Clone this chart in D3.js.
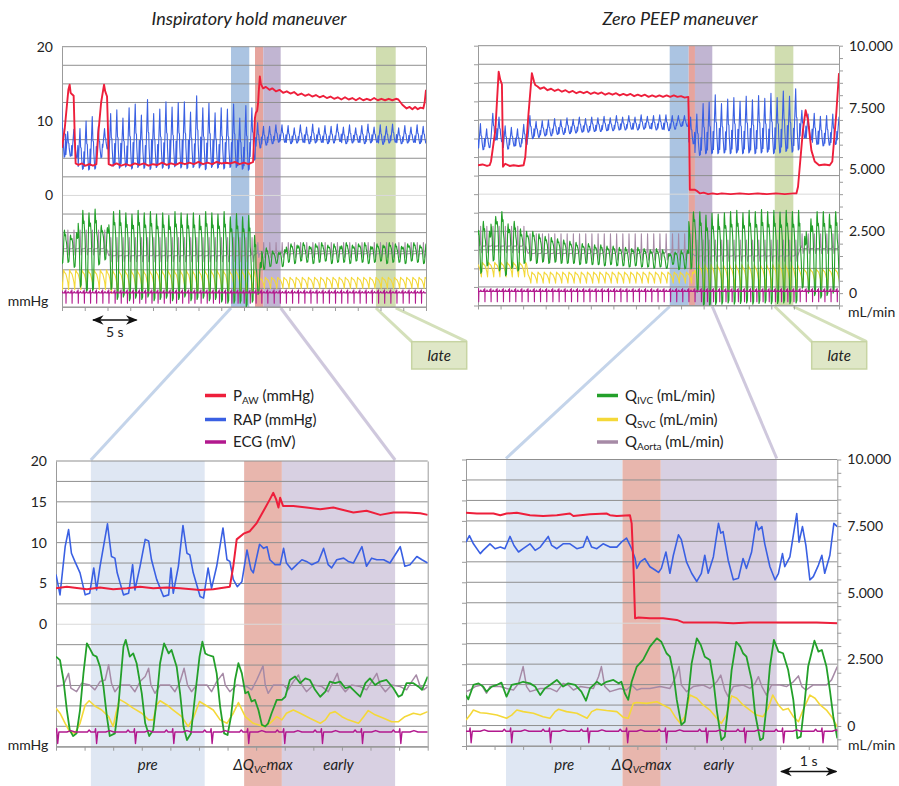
<!DOCTYPE html>
<html>
<head>
<meta charset="utf-8">
<script src="https://cdn.jsdelivr.net/npm/d3@7"></script>
<style>
  body { margin: 0; background: #ffffff; }
  svg { display: block; font-family: Lato, "Open Sans", "Liberation Sans", sans-serif; }
</style>
</head>
<body>
<svg id="chart" width="899" height="786"></svg>
<script>
// ---------------------------------------------------------------------------
// Tick labels and axis values
// ---------------------------------------------------------------------------
const pressureDomain = [-15, 20];                 // mmHg, left axis
const leftLabelsTop = [0, 10, 20];
const leftLabelsBottom = [0, 5, 10, 15, 20];
const flowLabels = [0, 2500, 5000, 7500, 10000];  // mL/min, right axis
const panelTitles = ["Inspiratory hold maneuver", "Zero PEEP maneuver"];

// ---------------------------------------------------------------------------
// Overview recordings (40 s). Heart beats (ECG R waves, s) and per-beat levels
// ---------------------------------------------------------------------------
const tlBeats = [-0.24, 0.43, 1.10, 1.78, 2.45, 3.13, 3.80, 4.48, 5.15, 5.83, 6.50, 7.18, 7.85, 8.53, 9.20,
  9.88, 10.55, 11.23, 11.90, 12.58, 13.25, 13.93, 14.60, 15.28, 15.95, 16.63, 17.30, 17.98, 18.66, 19.34,
  20.01, 20.68, 21.32, 21.95, 22.61, 23.31, 23.98, 24.65, 25.33, 26.00, 26.68, 27.35, 28.03, 28.70, 29.38,
  30.05, 30.73, 31.40, 32.08, 32.75, 33.43, 34.10, 34.78, 35.45, 36.13, 36.80, 37.48, 38.15, 38.83, 39.50];
const tlRapPeak = [12.4, 8.6, 8.9, 9.0, 10.0, 10.6, 9.3, 9.0, 11.0, 11.5, 10.4, 11.8, 12.3, 10.8, 12.9,
  11.0, 11.6, 12.6, 11.9, 12.5, 12.6, 11.2, 13.4, 11.8, 12.4, 11.1, 11.8, 11.6, 12.3, 10.4,
  12.1, 11.8, 9.8, 9.3, 9.3, 9.5, 9.5, 9.4, 9.1, 9.5, 9.2, 9.6, 9.1, 9.4, 9.3,
  9.6, 9.2, 9.5, 9.1, 9.4, 9.6, 9.2, 9.5, 9.3, 9.6, 9.1, 9.4, 9.2, 9.5, 9.3];
const tlRapTrough = [5.0, 5.2, 5.0, 3.4, 3.3, 3.4, 5.0, 6.2, 3.8, 3.5, 3.7, 3.4, 3.6, 3.5, 3.3,
  3.6, 3.5, 3.4, 3.7, 3.5, 3.4, 3.6, 3.5, 3.3, 3.6, 3.5, 3.4, 3.6, 3.6, 3.4,
  3.2, 4.6, 6.3, 6.7, 6.9, 7.1, 7.1, 6.9, 7.0, 7.1, 6.9, 7.0, 7.1, 6.9, 7.0,
  7.2, 6.9, 7.0, 7.1, 6.9, 7.0, 7.1, 6.8, 7.0, 7.1, 6.9, 7.0, 7.1, 6.9, 7.0];
const tlIvcPeak = [2600, 2400, 2500, 3400, 3300, 3450, 2800, 2700, 3350, 3400, 3300, 3250, 3400, 3300, 3350,
  3250, 3300, 3200, 3350, 3300, 3250, 3300, 3200, 3350, 3300, 3250, 3350, 3140, 3270, 3140,
  3200, 2390, 1300, 1890, 1760, 1700, 1820, 2050, 2000, 2100, 1950, 2050, 2100, 2000, 2050,
  1950, 2100, 2000, 2050, 2100, 1950, 2050, 2000, 2100, 2050, 1950, 2050, 2100, 2000, 2050];
const tlIvcTrough = [1250, 1300, 1100, 300, 100, 150, 1200, 1400, 200, -200, -100, -250, -150, -200, -100,
  -250, -200, -150, -250, -200, -100, -250, -200, -150, -250, -200, -300, -350, -350, -350,
  -500, -310, 10, 1010, 1130, 1260, 1130, 1300, 1250, 1350, 1300, 1250, 1300, 1350, 1250,
  1300, 1300, 1250, 1350, 1300, 1250, 1300, 1350, 1250, 1300, 1300, 1250, 1350, 1300, 1250];
// [from s, to s, low, high] in mL/min
const tlSvcSegments = [[-1, 5.15, 200, 1000], [5.15, 21.0, 50, 1000], [21.0, 41, 250, 700]];
const tlAortaSegments = [[-1, 5.15, 1850, 2600], [5.15, 21.0, 1570, 2300], [21.0, 41, 1650, 2100]];
const tlPaw = [[0, 6.4], [0.3, 9.0], [0.7, 14.2], [0.84, 14.9], [0.95, 13.8], [1.1, 13.6], [1.28, 13.4], [1.4, 8.0],
  [1.5, 4.3], [1.8, 4.1], [2.2, 4.3], [2.6, 4.0], [3.0, 4.2], [3.4, 4.0], [3.78, 4.2], [4.0, 8.5], [4.3, 12.5],
  [4.62, 14.9], [4.75, 14.0], [4.95, 13.3], [5.05, 9.0], [5.13, 4.2], [5.5, 4.0], [6.0, 4.3], [6.5, 4.0],
  [7.0, 4.2], [7.5, 4.0], [8.0, 4.3], [8.5, 4.1], [9.0, 4.3], [9.5, 4.0], [10.0, 4.2], [10.5, 4.1], [11.0, 4.4],
  [11.5, 4.1], [12.0, 4.3], [12.5, 4.1], [13.0, 4.4], [13.5, 4.2], [14.0, 4.4], [14.5, 4.2], [15.0, 4.5],
  [15.5, 4.2], [16.0, 4.4], [16.5, 4.2], [17.0, 4.5], [17.5, 4.3], [18.0, 4.4], [18.5, 4.3], [19.0, 4.5],
  [19.5, 4.2], [20.0, 4.4], [20.5, 4.2], [21.0, 4.5], [21.08, 7.0], [21.2, 10.4], [21.3, 11.1], [21.45, 11.4],
  [21.55, 12.4], [21.62, 13.9], [21.74, 16.0], [21.85, 15.0], [22.1, 14.4], [22.4, 14.6], [22.8, 14.2],
  [23.1, 14.4], [23.5, 14.0], [23.9, 14.2], [24.3, 13.8], [24.7, 14.0], [25.1, 13.7], [25.5, 13.9], [25.9, 13.5],
  [26.3, 13.7], [26.7, 13.4], [27.1, 13.6], [27.5, 13.3], [27.9, 13.5], [28.3, 13.2], [28.7, 13.4], [29.1, 13.1],
  [29.5, 13.3], [29.9, 13.0], [30.3, 13.2], [30.7, 12.9], [31.1, 13.2], [31.5, 12.9], [31.9, 13.1], [32.3, 12.8],
  [32.7, 13.1], [33.1, 12.8], [33.5, 13.0], [33.9, 12.8], [34.3, 13.1], [34.7, 12.8], [35.1, 13.0], [35.5, 12.8],
  [35.9, 13.0], [36.3, 12.8], [36.7, 13.0], [36.96, 12.9], [37.4, 12.2], [37.87, 11.7], [38.2, 11.9],
  [38.5, 11.6], [38.8, 11.9], [39.1, 11.6], [39.4, 11.8], [39.7, 11.7], [39.85, 12.5], [40, 14.2]];

const trBeats = [-0.62, 0.07, 0.76, 1.44, 2.13, 2.81, 3.50, 4.18, 4.87, 5.55, 6.24, 6.92, 7.61, 8.29, 8.98,
  9.66, 10.35, 11.03, 11.72, 12.40, 13.09, 13.77, 14.46, 15.14, 15.83, 16.51, 17.20, 17.88, 18.57, 19.25,
  19.94, 20.62, 21.33, 22.01, 22.68, 23.36, 24.04, 24.75, 25.42, 26.09, 26.78, 27.47, 28.15, 28.84, 29.52,
  30.21, 30.89, 31.58, 32.26, 32.95, 33.63, 34.32, 35.00, 35.69, 36.37, 37.06, 37.74, 38.43, 39.11, 39.80];
const trRapPeak = [9.0, 9.5, 8.8, 10.9, 10.4, 9.2, 9.0, 8.8, 9.4, 10.6, 9.8, 9.9, 10.0, 10.2, 10.0,
  10.3, 10.1, 10.4, 10.2, 10.4, 10.3, 10.5, 10.3, 10.6, 10.4, 10.6, 10.4, 10.7, 10.5, 10.6,
  10.7, 10.7, 10.6, 10.6, 10.6, 10.4, 10.8, 12.2, 12.4, 13.4, 12.2, 12.8, 13.0, 12.5, 13.2,
  12.7, 13.3, 12.9, 13.6, 13.0, 13.9, 13.2, 14.2, 11.3, 10.8, 10.9, 10.5, 10.6, 10.8, 10.4];
const trRapTrough = [6.0, 5.9, 6.2, 7.2, 7.0, 6.0, 6.4, 6.3, 6.6, 7.4, 7.6, 7.8, 7.8, 8.0, 8.0,
  8.1, 8.2, 8.3, 8.3, 8.4, 8.4, 8.5, 8.5, 8.6, 8.6, 8.7, 8.6, 8.7, 8.8, 8.6,
  8.7, 8.5, 8.7, 9.1, 9.1, 6.7, 5.1, 5.3, 5.3, 5.3, 5.4, 5.3, 5.4, 5.3, 5.4,
  5.3, 5.4, 5.5, 5.3, 5.4, 5.6, 5.5, 5.8, 7.5, 7.2, 6.6, 6.4, 6.5, 6.6, 7.0];
const trIvcPeak = [2600, 2900, 2500, 3100, 3300, 2800, 2900, 2600, 2500, 2500, 2400, 2300, 2250, 2200, 2150,
  2100, 2050, 2000, 2000, 1950, 1950, 1900, 1900, 1850, 1850, 1800, 1850, 1800, 1750, 1800,
  1750, 1600, 1660, 1730, 1730, 3290, 3290, 3160, 3230, 3200, 3250, 3300, 3350, 3250, 3350,
  3300, 3380, 3300, 3350, 3280, 3350, 3300, 3350, 2300, 3000, 3300, 3300, 3200, 3300, 2600];
const trIvcTrough = [1200, 800, 1100, 1300, 900, 700, 1000, 900, 1200, 1300, 1200, 1250, 1200, 1250, 1200,
  1200, 1200, 1150, 1200, 1150, 1150, 1100, 1150, 1100, 1100, 1050, 1100, 1050, 1050, 1000,
  1050, 1000, 1160, 950, 980, 980, 40, -530, -530, -460, -450, -400, -450, -420, -400,
  -450, -420, -400, -440, -420, -400, -430, -400, 200, 0, -100, -200, -100, 0, 300];
const trSvcSegments = [[-1, 5.24, 650, 1250], [5.24, 23.4, 400, 850], [23.4, 35.3, 150, 1150], [35.3, 41, 300, 1000]];
const trAortaSegments = [[-1, 5.24, 1900, 2700], [5.24, 23.4, 1600, 2400], [23.4, 35.3, 1500, 2150], [35.3, 41, 1800, 2400]];
const trPaw = [[0, 3.9], [0.5, 4.0], [1.0, 3.8], [1.29, 3.9], [1.44, 4.4], [1.92, 8.6], [2.29, 16.5], [2.47, 15.4],
  [2.65, 14.8], [2.72, 9.0], [2.77, 3.7], [3.02, 4.1], [3.5, 3.8], [3.94, 3.9], [4.5, 3.8], [5.05, 3.9], [5.24, 5.0],
  [5.6, 10.9], [5.97, 16.3], [6.2, 15.2], [6.34, 14.7], [6.6, 14.5], [6.89, 14.2], [7.3, 14.4], [7.7, 14.0],
  [8.1, 14.2], [8.5, 13.9], [8.9, 14.1], [9.3, 13.8], [9.7, 14.0], [10.1, 13.7], [10.5, 13.9], [10.9, 13.6],
  [11.3, 13.8], [11.7, 13.6], [12.1, 13.8], [12.5, 13.5], [12.9, 13.7], [13.3, 13.5], [13.7, 13.7], [14.1, 13.4],
  [14.5, 13.6], [14.9, 13.4], [15.3, 13.6], [15.7, 13.3], [16.1, 13.5], [16.5, 13.3], [16.9, 13.5], [17.3, 13.2],
  [17.7, 13.4], [18.1, 13.2], [18.5, 13.4], [18.9, 13.1], [19.3, 13.3], [19.7, 13.1], [20.1, 13.3], [20.5, 13.1],
  [20.9, 13.3], [21.3, 13.1], [21.7, 13.3], [22.1, 13.1], [22.5, 13.2], [22.9, 13.0], [23.3, 13.1], [23.41, 7.3],
  [23.47, 0.6], [23.7, 0.6], [24.0, 0.6], [24.3, 0.4], [24.6, 0.1], [25.0, 0.2], [25.5, 0.0], [26.0, 0.1],
  [26.5, 0.0], [27.0, 0.1], [28.0, 0.0], [29.0, 0.1], [30.0, 0.0], [31.0, 0.1], [32.0, 0.0], [33.0, 0.1],
  [34.0, 0.0], [35.0, 0.1], [35.28, 0.1], [35.46, 1.0], [36.0, 8.6], [36.3, 11.3], [36.57, 10.0], [36.94, 5.9],
  [37.31, 4.4], [37.8, 3.9], [38.4, 4.0], [38.97, 3.9], [39.26, 4.4], [39.7, 10.9], [40, 16.3]];

// ---------------------------------------------------------------------------
// Detail recordings (6.5 s): [time s, value]
// ---------------------------------------------------------------------------
const blBeats = [0.02, 0.70, 1.38, 2.05, 2.72, 3.36, 3.99, 4.65, 5.35, 6.02];
const blPaw = [[0, 4.4], [0.19, 4.6], [0.54, 4.3], [0.77, 4.5], [1.00, 4.3], [1.24, 4.4], [1.47, 4.6], [1.70, 4.4],
  [1.94, 4.5], [2.17, 4.4], [2.52, 4.2], [2.75, 4.3], [3.04, 4.6], [3.10, 7.1], [3.16, 10.4], [3.28, 11.1],
  [3.39, 11.4], [3.51, 12.4], [3.63, 13.9], [3.74, 15.3], [3.80, 16.1], [3.85, 15.3], [3.89, 14.3], [3.92, 15.5],
  [3.97, 14.5], [4.15, 14.5], [4.38, 14.3], [4.62, 14.1], [4.85, 14.3], [4.97, 14.1], [5.20, 13.7], [5.43, 13.9],
  [5.67, 13.4], [5.90, 13.7], [6.13, 13.7], [6.37, 13.6], [6.50, 13.4]];
const blRap = [[0, 6.1], [0.07, 3.6], [0.16, 9.5], [0.22, 11.6], [0.27, 8.7], [0.33, 7.7], [0.42, 6.3], [0.51, 3.6],
  [0.59, 3.8], [0.66, 6.9], [0.71, 4.2], [0.77, 7.1], [0.90, 12.3], [0.97, 8.3], [1.03, 8.1], [1.07, 6.3],
  [1.18, 3.6], [1.27, 3.8], [1.34, 7.3], [1.38, 4.2], [1.47, 7.1], [1.56, 10.4], [1.62, 10.2], [1.67, 7.9],
  [1.76, 5.5], [1.88, 3.4], [1.97, 3.6], [2.01, 6.9], [2.05, 3.8], [2.14, 7.1], [2.22, 12.1], [2.29, 8.7],
  [2.34, 8.5], [2.40, 6.3], [2.52, 3.4], [2.58, 3.2], [2.66, 6.9], [2.72, 4.4], [2.81, 7.1], [2.92, 11.8],
  [2.99, 7.9], [3.04, 7.7], [3.10, 5.5], [3.17, 4.6], [3.25, 5.2], [3.34, 9.1], [3.41, 6.7], [3.45, 6.3],
  [3.56, 9.8], [3.63, 9.3], [3.69, 9.5], [3.74, 7.9], [3.83, 7.3], [3.92, 7.3], [3.98, 9.3], [4.03, 7.5],
  [4.12, 6.7], [4.21, 7.3], [4.30, 7.9], [4.38, 7.7], [4.47, 7.3], [4.59, 7.7], [4.68, 9.3], [4.76, 7.3],
  [4.82, 6.9], [4.91, 7.9], [5.03, 8.1], [5.11, 7.7], [5.20, 7.5], [5.35, 9.5], [5.43, 7.1], [5.52, 8.1],
  [5.61, 7.9], [5.73, 7.9], [5.84, 7.5], [6.02, 9.5], [6.10, 7.1], [6.19, 7.3], [6.31, 8.3], [6.40, 7.9], [6.50, 7.5]];
const blIvc = [[0, 2640], [0.07, 2510], [0.13, 1760], [0.19, 630], [0.24, -120], [0.30, -350], [0.36, -250],
  [0.42, 630], [0.48, 2010], [0.54, 3140], [0.59, 2950], [0.65, 2700], [0.71, 2640], [0.77, 2260], [0.83, 1510],
  [0.89, 380], [0.94, -350], [1.03, -250], [1.09, 760], [1.18, 3020], [1.22, 3270], [1.29, 2640], [1.35, 2760],
  [1.41, 2390], [1.50, 1260], [1.56, 130], [1.63, -350], [1.70, -120], [1.76, 1010], [1.82, 2390], [1.89, 3140],
  [1.97, 2760], [2.02, 2890], [2.11, 2260], [2.17, 1260], [2.23, 10], [2.29, -500], [2.36, -250], [2.43, 1130],
  [2.51, 2640], [2.56, 3200], [2.61, 2760], [2.66, 2700], [2.75, 2640], [2.81, 2010], [2.87, 760], [2.94, -250],
  [3.00, -310], [3.06, 380], [3.13, 1760], [3.19, 2390], [3.25, 2010], [3.31, 1260], [3.36, 1320], [3.42, 950],
  [3.48, 1010], [3.54, 630], [3.60, 70], [3.66, 10], [3.71, 130], [3.77, 510], [3.86, 1010], [3.95, 1010],
  [4.01, 1130], [4.09, 1760], [4.18, 1890], [4.27, 1640], [4.36, 1820], [4.44, 1760], [4.53, 1390], [4.62, 1130],
  [4.71, 1320], [4.79, 1700], [4.88, 1640], [4.97, 1700], [5.06, 1450], [5.14, 1510], [5.26, 1260], [5.32, 1130],
  [5.41, 1640], [5.49, 1820], [5.58, 1570], [5.67, 1700], [5.78, 1760], [5.90, 1450], [5.99, 1130], [6.05, 1200],
  [6.13, 1640], [6.25, 1640], [6.34, 1510], [6.40, 1390], [6.50, 1890]];
const blAorta = [[0, 1510], [0.13, 1570], [0.22, 2010], [0.26, 1450], [0.36, 1320], [0.45, 1640], [0.59, 1570],
  [0.68, 1390], [0.77, 1700], [0.86, 1760], [0.92, 2330], [0.97, 1640], [1.03, 1320], [1.12, 1570], [1.29, 1570],
  [1.38, 1320], [1.47, 1700], [1.56, 1890], [1.62, 2200], [1.66, 1570], [1.73, 1260], [1.82, 1570], [1.99, 1570],
  [2.08, 1320], [2.17, 1700], [2.24, 2200], [2.30, 1570], [2.37, 1320], [2.46, 1570], [2.64, 1570], [2.72, 1320],
  [2.81, 1700], [2.92, 2010], [2.96, 1570], [3.04, 1320], [3.16, 1570], [3.34, 1510], [3.42, 1390], [3.51, 1760],
  [3.62, 2290], [3.66, 1570], [3.71, 1260], [3.80, 1570], [3.98, 1570], [4.06, 1390], [4.15, 1700], [4.24, 1950],
  [4.30, 1570], [4.38, 1320], [4.50, 1570], [4.65, 1510], [4.76, 1320], [4.85, 1700], [4.92, 2010], [4.97, 1570],
  [5.06, 1320], [5.17, 1570], [5.32, 1510], [5.43, 1390], [5.52, 1700], [5.61, 2010], [5.67, 1570], [5.76, 1320],
  [5.87, 1570], [6.02, 1510], [6.13, 1390], [6.22, 1700], [6.30, 1950], [6.36, 1570], [6.43, 1390], [6.50, 1510]];
const blSvc = [[0, 700], [0.07, 510], [0.16, 130], [0.24, -180], [0.33, -250], [0.42, 130], [0.51, 820], [0.58, 980],
  [0.68, 780], [0.80, 630], [0.92, 380], [1.00, 10], [1.05, 510], [1.11, 1030], [1.21, 910], [1.35, 700],
  [1.50, 510], [1.62, 260], [1.70, 260], [1.76, 820], [1.82, 980], [1.94, 820], [2.05, 630], [2.20, 380],
  [2.31, 10], [2.40, 320], [2.51, 950], [2.61, 820], [2.75, 630], [2.87, 260], [2.99, 130], [3.10, 510],
  [3.19, 910], [3.31, 380], [3.45, 130], [3.63, 10], [3.74, 130], [3.86, 380], [3.95, 260], [4.03, 510],
  [4.15, 630], [4.27, 510], [4.44, 320], [4.62, 130], [4.71, 260], [4.79, 510], [4.88, 570], [5.00, 380],
  [5.11, 260], [5.29, 130], [5.38, 380], [5.46, 610], [5.58, 450], [5.73, 320], [5.87, 190], [5.99, 190],
  [6.10, 380], [6.25, 510], [6.37, 450], [6.50, 570]];

const brBeats = [0.08, 0.79, 1.47, 2.14, 2.82, 3.50, 4.21, 4.88, 5.55, 6.24];
const brPaw = [[0, 13.5], [0.19, 13.4], [0.48, 13.4], [0.60, 13.2], [0.71, 13.4], [0.89, 13.5], [1.12, 13.2],
  [1.35, 13.1], [1.59, 13.2], [1.82, 13.4], [1.88, 13.1], [2.17, 13.3], [2.46, 13.4], [2.52, 13.2], [2.64, 13.1],
  [2.87, 13.2], [2.90, 12.2], [2.93, 7.3], [2.96, 0.6], [3.02, 0.7], [3.22, 0.6], [3.45, 0.6], [3.69, 0.4],
  [3.80, 0.1], [4.10, 0.1], [4.39, 0.1], [4.68, 0.0], [4.97, 0.1], [5.26, 0.1], [5.55, 0.1], [5.85, 0.1],
  [6.14, 0.1], [6.50, 0.0]];
const brRap = [[0, 9.9], [0.06, 10.7], [0.13, 9.7], [0.25, 8.5], [0.30, 8.9], [0.42, 9.7], [0.51, 9.1], [0.60, 9.3],
  [0.68, 9.1], [0.77, 10.6], [0.84, 9.5], [0.92, 8.7], [1.00, 9.1], [1.12, 9.7], [1.21, 8.9], [1.30, 9.3],
  [1.44, 10.6], [1.50, 9.5], [1.59, 9.1], [1.70, 9.7], [1.82, 9.7], [1.94, 9.1], [2.05, 9.3], [2.12, 10.6],
  [2.20, 9.3], [2.29, 9.1], [2.40, 9.7], [2.52, 9.3], [2.64, 9.3], [2.72, 9.9], [2.81, 10.4], [2.90, 9.1],
  [2.96, 7.9], [2.99, 6.7], [3.05, 7.5], [3.13, 7.9], [3.22, 6.9], [3.31, 6.5], [3.37, 6.2], [3.42, 6.7],
  [3.50, 8.7], [3.57, 6.1], [3.63, 8.3], [3.72, 10.8], [3.77, 10.2], [3.86, 7.5], [3.95, 6.1], [4.04, 5.1],
  [4.12, 6.1], [4.18, 8.3], [4.24, 6.1], [4.33, 8.1], [4.42, 12.2], [4.46, 11.0], [4.50, 11.2], [4.59, 7.7],
  [4.68, 5.3], [4.77, 5.5], [4.85, 7.9], [4.91, 6.7], [5.00, 8.7], [5.08, 12.4], [5.12, 11.4], [5.18, 11.8],
  [5.23, 9.7], [5.32, 6.9], [5.41, 5.3], [5.47, 6.1], [5.54, 8.5], [5.58, 6.9], [5.67, 8.1], [5.79, 13.4],
  [5.83, 9.9], [5.89, 11.8], [5.95, 9.5], [6.02, 5.3], [6.08, 5.7], [6.17, 7.1], [6.23, 8.3], [6.28, 6.1],
  [6.37, 8.3], [6.44, 12.2], [6.50, 11.8]];
const brIvc = [[0, 1160], [0.04, 1000], [0.13, 1540], [0.22, 1600], [0.30, 1480], [0.36, 1290], [0.45, 1480],
  [0.54, 1540], [0.62, 1630], [0.71, 1100], [0.80, 1540], [0.92, 1600], [1.00, 1660], [1.12, 1600], [1.21, 1480],
  [1.30, 1160], [1.38, 1410], [1.47, 1540], [1.59, 1730], [1.70, 1480], [1.79, 1600], [1.91, 1540], [2.02, 1290],
  [2.10, 950], [2.17, 1410], [2.29, 1660], [2.37, 1540], [2.46, 1660], [2.58, 1730], [2.67, 1600], [2.72, 1660],
  [2.78, 1230], [2.84, 980], [2.90, 1660], [2.99, 2230], [3.10, 2480], [3.22, 2980], [3.34, 3290], [3.42, 3160],
  [3.51, 2730], [3.57, 2600], [3.63, 1980], [3.69, 980], [3.77, 40], [3.83, 160], [3.89, 1100], [3.95, 2350],
  [4.04, 3290], [4.11, 3040], [4.18, 2600], [4.27, 2480], [4.33, 1730], [4.39, 600], [4.47, -530], [4.53, -400],
  [4.59, 730], [4.65, 2100], [4.73, 3160], [4.80, 2980], [4.85, 2730], [4.91, 2600], [5.00, 1730], [5.06, 480],
  [5.15, -530], [5.20, -460], [5.26, 730], [5.32, 2230], [5.39, 3230], [5.47, 2790], [5.55, 2730], [5.64, 2100],
  [5.73, 980], [5.80, -460], [5.86, -400], [5.92, 730], [5.99, 2230], [6.10, 3200], [6.17, 2790], [6.23, 2850],
  [6.31, 2230], [6.37, 1350], [6.43, 350], [6.50, -460]];
const brAorta = [[0, 1290], [0.07, 1350], [0.16, 1480], [0.27, 1540], [0.36, 1230], [0.42, 1480], [0.60, 1480],
  [0.71, 1410], [0.83, 1350], [0.92, 1600], [1.00, 2230], [1.06, 1480], [1.12, 1290], [1.30, 1410], [1.47, 1410],
  [1.59, 1290], [1.70, 1600], [1.79, 1540], [1.88, 1350], [2.00, 1480], [2.23, 1410], [2.32, 1850], [2.37, 2230],
  [2.43, 1480], [2.52, 1290], [2.70, 1410], [2.81, 1350], [2.90, 1540], [2.99, 1350], [3.07, 1410], [3.22, 1410],
  [3.40, 1480], [3.57, 1410], [3.66, 1790], [3.73, 2230], [3.77, 1540], [3.86, 1290], [3.98, 1480], [4.15, 1540],
  [4.27, 1410], [4.39, 1660], [4.46, 1910], [4.53, 1350], [4.59, 1100], [4.68, 1480], [4.85, 1540], [4.97, 1410],
  [5.06, 1600], [5.12, 1850], [5.18, 1480], [5.26, 1160], [5.35, 1540], [5.50, 1540], [5.61, 1480], [5.73, 1660],
  [5.82, 1880], [5.88, 1480], [5.95, 1350], [6.08, 1540], [6.20, 1540], [6.31, 1540], [6.40, 1730], [6.50, 2230]];
const brSvc = [[0, 230], [0.07, 410], [0.13, 600], [0.25, 500], [0.36, 480], [0.54, 410], [0.71, 290], [0.80, 410],
  [0.89, 600], [1.00, 540], [1.18, 480], [1.35, 350], [1.47, 290], [1.56, 540], [1.62, 630], [1.76, 540],
  [1.94, 480], [2.12, 290], [2.20, 540], [2.29, 630], [2.46, 580], [2.64, 540], [2.75, 330], [2.84, 290],
  [2.93, 850], [2.99, 880], [3.16, 850], [3.34, 910], [3.45, 790], [3.57, 660], [3.66, 350], [3.75, 100],
  [3.83, 350], [3.92, 1160], [4.04, 1040], [4.15, 790], [4.27, 600], [4.39, 290], [4.47, 100], [4.56, 410],
  [4.65, 1130], [4.74, 1040], [4.85, 790], [4.97, 600], [5.09, 410], [5.20, 350], [5.29, 660], [5.37, 1160],
  [5.47, 790], [5.55, 600], [5.64, 660], [5.73, 350], [5.82, 160], [5.90, 600], [6.02, 1160], [6.11, 1040],
  [6.20, 790], [6.31, 600], [6.40, 350], [6.50, -30]];

// ECG level (drawn on the pressure axis) and analysis windows [name, from s, to s]
const ecgLevelTop = -13.1;
const ecgLevelBottom = -13.2;
const tlWindows = [["pre", 18.57, 20.58], ["dq", 21.21, 22.12], ["early", 22.12, 24.03], ["late", 34.5, 36.67]];
const trWindows = [["pre", 21.24, 23.35], ["dq", 23.35, 24.04], ["early", 24.04, 25.96], ["late", 32.88, 34.94]];
const blWindows = [["pre", 0.61, 2.60], ["dq", 3.29, 3.95], ["early", 3.95, 5.93]];
const brWindows = [["pre", 0.70, 2.74], ["dq", 2.74, 3.41], ["early", 3.41, 5.44]];

// Beat waveform outlines: [fraction of beat interval, weight between low (0) and high (1)]
const rapShape = [[0, 0.09], [0.10, 0.42], [0.29, 1], [0.40, 0.55], [0.49, 0.53], [0.54, 0.33], [0.71, 0.02], [0.84, 0.04], [0.94, 0.44]];
const ivcShape = [[0, 0.83], [0.10, 0.72], [0.19, 0.51], [0.28, 0.2], [0.35, 0], [0.49, 0.03], [0.57, 0.31], [0.71, 0.93], [0.76, 1], [0.87, 0.83], [0.96, 0.86]];
const svcShape = [[0, 0.78], [0.15, 0.61], [0.32, 0.36], [0.44, 0], [0.51, 0.49], [0.60, 1], [0.75, 0.88]];
const aortaShape = [[0, 0], [0.2, 0.05], [0.27, 0.25], [0.32, 1], [0.40, 0.09], [0.49, -0.33], [0.62, 0]];
// ECG complex: [seconds from R wave, offset]
const ecgShape = [[-0.15, 0], [-0.12, 0.25], [-0.09, 0], [-0.02, 0], [-0.008, 0.4], [0.01, -1.4], [0.03, 0], [0.17, 0], [0.24, 0.18], [0.31, 0]];

// ---------------------------------------------------------------------------
// Helpers that expand beat lists into drawable polylines
// ---------------------------------------------------------------------------
function beatSpan(beats, i) {
  return i + 1 < beats.length ? beats[i + 1] - beats[i] : beats[i] - beats[i - 1];
}
function beatSeries(beats, highs, lows, shape) {
  const pts = [];
  beats.forEach((b, i) => {
    const span = beatSpan(beats, i);
    shape.forEach(([f, w]) => pts.push([b + f * span, lows[i] + w * (highs[i] - lows[i])]));
  });
  return pts;
}
function segmentSeries(beats, segments, shape) {
  const pts = [];
  beats.forEach((b, i) => {
    const seg = segments.find(s => b >= s[0] && b < s[1]) || segments[segments.length - 1];
    const span = beatSpan(beats, i);
    shape.forEach(([f, w]) => pts.push([b + f * span, seg[2] + w * (seg[3] - seg[2])]));
  });
  return pts;
}
function ecgSeries(beats, level, domain) {
  const pts = [[domain[0], level]];
  beats.forEach(b => ecgShape.forEach(([dt, dv]) => pts.push([b + dt, level + dv])));
  pts.push([domain[1], level]);
  return pts;
}

// ---------------------------------------------------------------------------
// Styles
// ---------------------------------------------------------------------------
const traceStyle = {
  paw:   { color: "#ee1f3b", top: 1.9, bottom: 2.0 },
  rap:   { color: "#3a60e3", top: 1.1, bottom: 1.6 },
  ecg:   { color: "#b2188e", top: 1.1, bottom: 1.4 },
  ivc:   { color: "#23a02a", top: 1.1, bottom: 1.8 },
  svc:   { color: "#f4d838", top: 1.1, bottom: 1.6 },
  aorta: { color: "#a68aa6", top: 1.1, bottom: 1.5 }
};
const windowFill = {
  top:    { pre: "#abc4e2", dq: "#e6a49d", early: "#c1b5d2", late: "#d0ddb0" },
  bottom: { pre: "#dfe7f3", dq: "#e8b6ad", early: "#d8d0e2" }
};
const connectorColor = { pre: "#c4d4ea", early: "#cfc8dd", late: "#d4e0ba" };
const gridValues = d3.range(pressureDomain[0], pressureDomain[1] + 0.001, 2.5);
const fmtFlow = d3.formatLocale({ decimal: ",", thousands: ".", grouping: [3], currency: ["", ""] }).format(",");
const FONT = "Lato, 'Open Sans', 'Liberation Sans', sans-serif";
const AXIS = "#9b9b9b";

const svg = d3.select("#chart");
const defs = svg.append("defs");
const connectorLayer = svg.append("g");

const panels = [
  { key: "tl", tier: "top", box: { left: 62, right: 426, top: 46.7, bottom: 307 }, t: [0, 40], tStep: 2.5,
    flow: [-500, 10000], leftLabels: leftLabelsTop, leftTicks: false, rightTicks: false, windows: tlWindows,
    traces: [
      ["svc", segmentSeries(tlBeats, tlSvcSegments, svcShape), "R"],
      ["aorta", segmentSeries(tlBeats, tlAortaSegments, aortaShape), "R"],
      ["ivc", beatSeries(tlBeats, tlIvcPeak, tlIvcTrough, ivcShape), "R"],
      ["ecg", ecgSeries(tlBeats, ecgLevelTop, [0, 40]), "L"],
      ["rap", beatSeries(tlBeats, tlRapPeak, tlRapTrough, rapShape), "L"],
      ["paw", tlPaw, "L"]
    ] },
  { key: "tr", tier: "top", box: { left: 478, right: 839, top: 45.7, bottom: 305.5 }, t: [0, 40], tStep: 2.5,
    flow: [-500, 10000], leftLabels: null, leftTicks: true, rightTicks: true, rightLabels: flowLabels, windows: trWindows,
    traces: [
      ["svc", segmentSeries(trBeats, trSvcSegments, svcShape), "R"],
      ["aorta", segmentSeries(trBeats, trAortaSegments, aortaShape), "R"],
      ["ivc", beatSeries(trBeats, trIvcPeak, trIvcTrough, ivcShape), "R"],
      ["ecg", ecgSeries(trBeats, ecgLevelTop, [0, 40]), "L"],
      ["rap", beatSeries(trBeats, trRapPeak, trRapTrough, rapShape), "L"],
      ["paw", trPaw, "L"]
    ] },
  { key: "bl", tier: "bottom", box: { left: 56, right: 427.7, top: 461, bottom: 746.7 }, t: [0, 6.5], tStep: 0.5,
    flow: [-750, 10000], leftLabels: leftLabelsBottom, leftTicks: false, rightTicks: false, windows: blWindows,
    traces: [
      ["svc", blSvc, "R"], ["aorta", blAorta, "R"], ["ivc", blIvc, "R"],
      ["ecg", ecgSeries(blBeats, ecgLevelBottom, [0, 6.5]), "L"], ["rap", blRap, "L"], ["paw", blPaw, "L"]
    ] },
  { key: "br", tier: "bottom", box: { left: 466, right: 837.3, top: 459.5, bottom: 746 }, t: [0, 6.5], tStep: 0.5,
    flow: [-750, 10000], leftLabels: null, leftTicks: true, rightTicks: true, rightLabels: flowLabels, windows: brWindows,
    traces: [
      ["svc", brSvc, "R"], ["aorta", brAorta, "R"], ["ivc", brIvc, "R"],
      ["ecg", ecgSeries(brBeats, ecgLevelBottom, [0, 6.5]), "L"], ["rap", brRap, "L"], ["paw", brPaw, "L"]
    ] }
];

function styleAxis(sel) {
  sel.select(".domain").attr("stroke", AXIS);
  sel.selectAll(".tick line").attr("stroke", AXIS);
  sel.selectAll(".tick text").attr("font-size", 14).attr("fill", "#222").attr("font-family", FONT);
}

const scales = {};
panels.forEach(p => {
  const { left, right, top, bottom } = p.box;
  const x = d3.scaleLinear().domain(p.t).range([left, right]);
  const yL = d3.scaleLinear().domain(pressureDomain).range([bottom, top]);
  const yR = d3.scaleLinear().domain(p.flow).range([bottom, top]);
  scales[p.key] = { x, yL, yR };
  const g = svg.append("g").attr("class", "panel-" + p.key);

  // analysis windows
  const bandBottom = p.tier === "bottom" ? 786 : bottom;
  g.append("g").selectAll("rect").data(p.windows).join("rect")
    .attr("x", d => x(d[1])).attr("width", d => x(d[2]) - x(d[1]))
    .attr("y", top).attr("height", bandBottom - top)
    .attr("fill", d => windowFill[p.tier][d[0]]);

  // horizontal gridlines (pressure steps of 2.5 mmHg)
  g.append("g").selectAll("line").data(gridValues).join("line")
    .attr("x1", left).attr("x2", right)
    .attr("y1", d => yL(d)).attr("y2", d => yL(d))
    .attr("stroke", d => d === 0 ? "#d9d9d9" : "#8f8f8f").attr("stroke-width", 1);

  // axes
  const axL = g.append("g").attr("transform", `translate(${left},0)`)
    .call(d3.axisLeft(yL).tickValues(p.leftLabels || p.leftTicks ? gridValues : []).tickSize(p.leftTicks ? 4 : 0)
      .tickSizeOuter(0).tickPadding(p.leftLabels ? 9 : 4)
      .tickFormat(d => p.leftLabels && p.leftLabels.includes(d) ? d : ""));
  styleAxis(axL);
  const axR = g.append("g").attr("transform", `translate(${right},0)`)
    .call(d3.axisRight(yR).tickValues(p.rightTicks ? d3.range(-500, 10001, 500) : []).tickSize(p.rightTicks ? 4 : 0)
      .tickSizeOuter(0).tickPadding(6)
      .tickFormat(d => p.rightLabels && p.rightLabels.includes(d) ? fmtFlow(d) : ""));
  styleAxis(axR);
  const axB = g.append("g").attr("transform", `translate(0,${bottom})`)
    .call(d3.axisBottom(x).tickValues(d3.range(p.t[0], p.t[1] + 1e-6, p.tStep)).tickSize(4)
      .tickSizeOuter(0).tickFormat(""));
  styleAxis(axB);

  // traces
  defs.append("clipPath").attr("id", "clip-" + p.key).append("rect")
    .attr("x", left).attr("y", top).attr("width", right - left).attr("height", bottom - top);
  const traceLayer = g.append("g").attr("clip-path", `url(#clip-${p.key})`);
  p.traces.forEach(([key, data, axis]) => {
    const y = axis === "L" ? yL : yR;
    const line = d3.line().x(d => x(d[0])).y(d => y(d[1]));
    traceLayer.append("path").datum(data)
      .attr("d", line)
      .attr("fill", "none")
      .attr("stroke", traceStyle[key].color)
      .attr("stroke-width", traceStyle[key][p.tier])
      .attr("stroke-linejoin", "round");
  });
});

// ---------------------------------------------------------------------------
// Zoom connectors between overview windows and detail panels
// ---------------------------------------------------------------------------
function connector(pTop, pBottom, winTop, winBottom, edge, name) {
  const st = scales[pTop.key], sb = scales[pBottom.key];
  const wt = pTop.windows.find(w => w[0] === winTop);
  const wb = pBottom.windows.find(w => w[0] === winBottom);
  connectorLayer.append("line")
    .attr("x1", st.x(wt[edge])).attr("y1", pTop.box.bottom + 1)
    .attr("x2", sb.x(wb[edge])).attr("y2", pBottom.box.top - 1)
    .attr("stroke", connectorColor[name]).attr("stroke-width", 3);
}
connector(panels[0], panels[2], "pre", "pre", 1, "pre");
connector(panels[0], panels[2], "early", "early", 2, "early");
connector(panels[1], panels[3], "pre", "pre", 1, "pre");
connector(panels[1], panels[3], "early", "early", 2, "early");

// "late" windows lead to a label box
[[panels[0], 411.7], [panels[1], 811.7]].forEach(([p, bx]) => {
  const s = scales[p.key];
  const w = p.windows.find(d => d[0] === "late");
  const by = 341.7, bw = 55, bh = 27.3;
  connectorLayer.append("line").attr("x1", s.x(w[1])).attr("y1", p.box.bottom + 1).attr("x2", bx).attr("y2", by)
    .attr("stroke", connectorColor.late).attr("stroke-width", 3);
  connectorLayer.append("line").attr("x1", s.x(w[2])).attr("y1", p.box.bottom + 1).attr("x2", bx + bw).attr("y2", by)
    .attr("stroke", connectorColor.late).attr("stroke-width", 3);
  svg.append("rect").attr("x", bx).attr("y", by).attr("width", bw).attr("height", bh)
    .attr("fill", "#dfe7c7").attr("stroke", "#c7d4a3").attr("stroke-width", 1.5);
  svg.append("text").attr("x", bx + bw / 2).attr("y", by + 19).attr("text-anchor", "middle")
    .attr("font-family", FONT).attr("font-style", "italic").attr("font-size", 15).attr("fill", "#222").text("late");
});

// ---------------------------------------------------------------------------
// Titles, unit labels, scale bars
// ---------------------------------------------------------------------------
const textStyle = sel => sel.attr("font-family", FONT).attr("fill", "#222");
svg.append("text").call(textStyle).attr("x", 249).attr("y", 25).attr("text-anchor", "middle")
  .attr("font-size", 18).attr("font-style", "italic").text(panelTitles[0]);
svg.append("text").call(textStyle).attr("x", 680).attr("y", 25).attr("text-anchor", "middle")
  .attr("font-size", 18).attr("font-style", "italic").text(panelTitles[1]);
[[28, 305.5], [28, 750]].forEach(([x, y]) =>
  svg.append("text").call(textStyle).attr("x", x).attr("y", y).attr("text-anchor", "middle").attr("font-size", 14).text("mmHg"));
[[848, 316.5], [848, 750]].forEach(([x, y]) =>
  svg.append("text").call(textStyle).attr("x", x).attr("y", y).attr("font-size", 14).text("mL/min"));

defs.append("marker").attr("id", "arrow").attr("viewBox", "0 0 10 10").attr("refX", 9).attr("refY", 5)
  .attr("markerWidth", 9).attr("markerHeight", 9).attr("orient", "auto-start-reverse")
  .append("path").attr("d", "M0,1 L10,5 L0,9 L3,5 Z").attr("fill", "#111");
function scaleBar(s, t0, len, y, labelY, label) {
  svg.append("line").attr("x1", s.x(t0) + 1).attr("x2", s.x(t0 + len) - 1).attr("y1", y).attr("y2", y)
    .attr("stroke", "#111").attr("stroke-width", 1.3)
    .attr("marker-start", "url(#arrow)").attr("marker-end", "url(#arrow)");
  svg.append("text").call(textStyle).attr("x", (s.x(t0) + s.x(t0 + len)) / 2).attr("y", labelY)
    .attr("text-anchor", "middle").attr("font-size", 14).text(label);
}
scaleBar(scales.tl, 3.3, 5, 320, 337, "5 s");
scaleBar(scales.br, 5.5, 1, 771.5, 766, "1 s");

// window names below the detail panels
function windowLabel(p, name, parts) {
  const s = scales[p.key];
  const w = p.windows.find(d => d[0] === name);
  const t = svg.append("text").call(textStyle).attr("x", (s.x(w[1]) + s.x(w[2])) / 2).attr("y", 773)
    .attr("text-anchor", "middle").attr("font-size", 15).attr("font-style", "italic");
  parts.forEach(([txt, sub]) => {
    t.append("tspan").attr("font-size", sub ? 10 : 15).attr("dy", sub ? 3 : (t.selectAll("tspan").size() > 0 ? -3 : 0)).text(txt);
  });
}
[panels[2], panels[3]].forEach(p => {
  windowLabel(p, "pre", [["pre", false]]);
  windowLabel(p, "dq", [["ΔQ", false], ["VC", true], ["max", false]]);
  windowLabel(p, "early", [["early", false]]);
});

// ---------------------------------------------------------------------------
// Legends
// ---------------------------------------------------------------------------
const legendLeft = [["paw", "P", "AW", " (mmHg)"], ["rap", "RAP (mmHg)", "", ""], ["ecg", "ECG (mV)", "", ""]];
const legendRight = [["ivc", "Q", "IVC", " (mL/min)"], ["svc", "Q", "SVC", " (mL/min)"], ["aorta", "Q", "Aorta", " (mL/min)"]];
const legendRows = [395.5, 419.5, 442];
function legend(items, x0) {
  items.forEach(([key, main, sub, rest], i) => {
    const y = legendRows[i];
    svg.append("line").attr("x1", x0).attr("x2", x0 + 21).attr("y1", y).attr("y2", y)
      .attr("stroke", traceStyle[key].color).attr("stroke-width", 3.5);
    const t = svg.append("text").call(textStyle).attr("x", x0 + 28).attr("y", y + 5).attr("font-size", 15);
    t.append("tspan").text(main);
    if (sub) {
      t.append("tspan").attr("font-size", 10).attr("dy", 3).text(sub);
      t.append("tspan").attr("dy", -3).text(rest);
    }
  });
}
legend(legendLeft, 205);
legend(legendRight, 597);
</script>
</body>
</html>
